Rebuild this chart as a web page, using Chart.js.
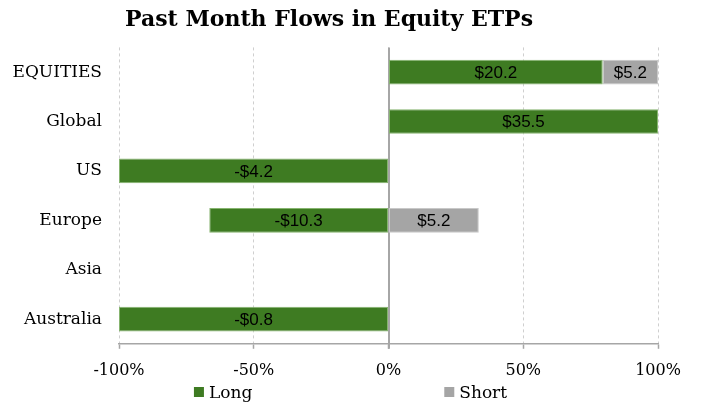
<!DOCTYPE html>
<html>
<head>
<meta charset="utf-8">
<script src="https://cdn.jsdelivr.net/npm/chart.js@4/dist/chart.umd.min.js"></script>
<style>
  body { margin: 0; background: #fff; }
</style>
</head>
<body>
<canvas id="flowsChart" width="701" height="403"></canvas>
<script>
const regions = ['EQUITIES', 'Global', 'US', 'Europe', 'Asia', 'Australia'];

// share of each region's flow (percent)
const longShare = [79.5, 100, -100, -66.5, null, -100];
const shortShare = [20.5, null, null, 33.5, null, null];

// dollar flows printed in the bars
const longFlows = [20.2, 35.5, -4.2, -10.3, null, -0.8];
const shortFlows = [5.2, null, null, 5.2, null, null];

const xTicks = [-100, -50, 0, 50, 100];

const serif = "'DejaVu Serif', serif";

function formatFlow(v) {
    return (v < 0 ? '-' : '') + '$' + Math.abs(v).toFixed(1);
}

// writes the dollar values in the middle of each bar
const barLabels = {
    id: 'barLabels',
    afterDatasetsDraw(chart) {
        const ctx = chart.ctx;
        const flows = [longFlows, shortFlows];
        ctx.save();
        ctx.font = "17px 'Liberation Sans', Arial, sans-serif";
        ctx.fillStyle = '#000';
        ctx.textAlign = 'center';
        ctx.textBaseline = 'middle';
        chart.data.datasets.forEach((ds, i) => {
            chart.getDatasetMeta(i).data.forEach((bar, j) => {
                const v = flows[i][j];
                if (v === null || v === undefined) return;
                const p = bar.getProps(['x', 'y', 'base'], true);
                ctx.fillText(formatFlow(v), (p.x + p.base) / 2, p.y + 1);
            });
        });
        ctx.restore();
    }
};

// solid line at 0%
const zeroLine = {
    id: 'zeroLine',
    beforeDatasetsDraw(chart) {
        const x = Math.round(chart.scales.x.getPixelForValue(0));
        const area = chart.chartArea;
        const ctx = chart.ctx;
        ctx.save();
        ctx.strokeStyle = '#a6a6a6';
        ctx.lineWidth = 2;
        ctx.beginPath();
        ctx.moveTo(x, area.top);
        ctx.lineTo(x, area.bottom + 5);
        ctx.stroke();
        ctx.restore();
    }
};

// legend with a wide gap between the two entries, like the original
const wideLegend = {
    id: 'wideLegend',
    afterDraw(chart) {
        const ctx = chart.ctx;
        const gap = 192;
        const box = 10;
        ctx.save();
        ctx.font = '17px ' + serif;
        const items = chart.data.datasets.map(ds => ({
            text: ds.label,
            color: ds.backgroundColor,
            w: box + 5 + ctx.measureText(ds.label).width
        }));
        const total = items.reduce((s, it) => s + it.w, 0) + gap * (items.length - 1);
        let x = (chart.width - total) / 2;
        const y = 387;
        ctx.textBaseline = 'alphabetic';
        items.forEach(it => {
            ctx.fillStyle = it.color;
            ctx.fillRect(x, y, box, box);
            ctx.fillStyle = '#000';
            ctx.fillText(it.text, x + box + 5, y + 11);
            x += it.w + gap;
        });
        ctx.restore();
    }
};

new Chart(document.getElementById('flowsChart'), {
    type: 'bar',
    data: {
        labels: regions,
        datasets: [{
            label: 'Long',
            data: longShare,
            backgroundColor: '#3e7b22',
            borderColor: '#86b46f',
            borderWidth: 1,
            borderSkipped: false
        }, {
            label: 'Short',
            data: shortShare,
            backgroundColor: '#a5a5a5',
            borderColor: '#c8c8c8',
            borderWidth: 1,
            borderSkipped: false
        }]
    },
    options: {
        responsive: false,
        animation: false,
        indexAxis: 'y',
        layout: { padding: { left: 0, right: 43, top: 0, bottom: 11 } },
        datasets: {
            bar: { categoryPercentage: 1, barPercentage: 0.5 }
        },
        scales: {
            x: {
                stacked: true,
                min: -100,
                max: 100,
                afterBuildTicks: scale => {
                    scale.ticks = xTicks.map(v => ({ value: v }));
                },
                ticks: {
                    color: '#000',
                    font: { family: serif, size: 16 },
                    padding: 12,
                    callback: v => v + '%'
                },
                grid: {
                    color: '#cfcfcf',
                    lineWidth: 1,
                    tickLength: 5,
                    tickColor: '#a6a6a6',
                    tickWidth: 1.5
                },
                border: { color: '#a6a6a6', width: 1.5, dash: [3, 3] }
            },
            y: {
                stacked: true,
                afterFit: scale => { scale.width = 119; },
                ticks: {
                    color: '#000',
                    font: { family: serif, size: 17 },
                    padding: 17
                },
                grid: { display: false, drawTicks: false },
                border: { display: false }
            }
        },
        plugins: {
            title: {
                display: true,
                text: 'Past Month Flows in Equity ETPs',
                color: '#000',
                font: { family: serif, size: 22, weight: 'bold' },
                padding: { top: 7, bottom: 14 }
            },
            legend: { display: false },
            tooltip: { enabled: false }
        }
    },
    plugins: [zeroLine, barLabels, wideLegend]
});
</script>
</body>
</html>
